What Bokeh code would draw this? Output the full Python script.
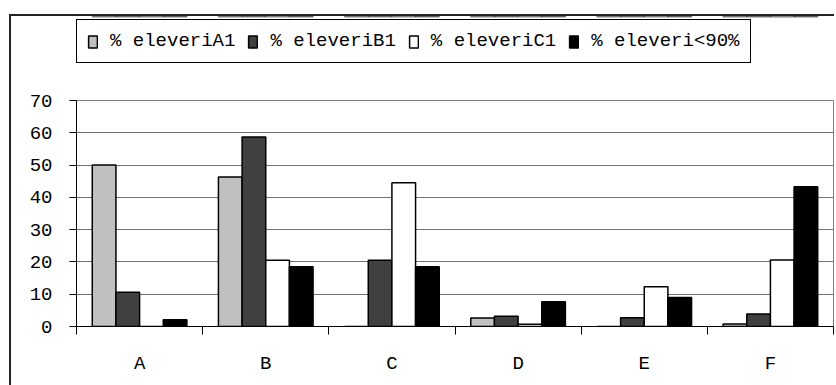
from bokeh.plotting import figure
from bokeh.layouts import column
from bokeh.models import (ColumnDataSource, Range1d, LinearAxis,
                          FixedTicker, Legend, LegendItem, Grid)
from bokeh.transform import dodge
from bokeh.embed import file_html
from bokeh.resources import INLINE

categories = ["A", "B", "C", "D", "E", "F"]
series_labels = ["% eleveriA1", "% eleveriB1", "% eleveriC1", "% eleveri<90%"]
eleveri_A1 = [50.0, 46.3, 0.0, 2.6, 0.0, 0.8]
eleveri_B1 = [10.6, 58.7, 20.5, 3.2, 2.7, 3.9]
eleveri_C1 = [0.0, 20.5, 44.5, 0.7, 12.3, 20.6]
eleveri_lt90 = [2.1, 18.5, 18.5, 7.7, 9.0, 43.3]
y_ticks = [0, 10, 20, 30, 40, 50, 60, 70]

FONT = "Liberation Mono"
FS = "19px"
BORDER = "2px solid #222222"

n = len(categories)
centers = [i + 0.5 for i in range(n)]
src = ColumnDataSource(dict(x=centers, cat=categories, a1=eleveri_A1, b1=eleveri_B1,
                            c1=eleveri_C1, lt90=eleveri_lt90))
cols = ["a1", "b1", "c1", "lt90"]
colors = ["#C0C0C0", "#404040", "#FFFFFF", "#000000"]
w = 0.1875
offsets = [-1.5 * w, -0.5 * w, 0.5 * w, 1.5 * w]

# ---------- legend strip (its bars sit far outside its visible range; only the legend shows) ----------
lg = figure(width=825, height=74, x_range=Range1d(0, n), y_range=Range1d(-1000, -999),
            output_backend="svg", toolbar_location=None,
            x_axis_location=None, y_axis_location=None,
            min_border_left=0, min_border_right=0, min_border_top=0, min_border_bottom=0)
lg.styles = {"margin-left": "9px", "margin-top": "14px",
             "border-left": BORDER, "border-top": BORDER}
lg.outline_line_color = None
lg.background_fill_color = "white"
lg.border_fill_color = "white"
for gr in lg.grid:
    gr.visible = False
legend_renderers = []
for c, col, off in zip(cols, colors, offsets):
    legend_renderers.append(lg.vbar(x=dodge("x", off), top=c, bottom=0, width=w, source=src,
                                    fill_color=col, line_color="black", line_width=1.5))

legend = Legend(items=[LegendItem(label=l, renderers=[r]) for l, r in zip(series_labels, legend_renderers)],
                orientation="horizontal", location=(0, 27))
legend.label_text_font = FONT
legend.label_text_font_size = FS
legend.label_text_color = "black"
legend.glyph_width = 11
legend.glyph_height = 15
legend.label_standoff = 12
legend.spacing = 12
legend.padding = 10
legend.margin = 0
legend.border_line_color = "black"
legend.border_line_alpha = 1
legend.border_line_width = 1.5
legend.background_fill_color = "white"
legend.background_fill_alpha = 1
lg.add_layout(legend, "center")

# ---------- chart ----------
p = figure(width=825, height=297, x_range=Range1d(0, n),
           y_range=Range1d(0, 70), output_backend="svg", toolbar_location=None,
           x_axis_location=None, y_axis_location=None,
           min_border_left=65, min_border_right=3, min_border_top=12, min_border_bottom=59)
p.styles = {"margin-left": "9px", "border-left": BORDER}
p.background_fill_color = "white"
p.border_fill_color = "white"
p.outline_line_color = "#808080"
p.outline_line_width = 1
for gr in p.grid:
    gr.visible = False

yax = LinearAxis(ticker=FixedTicker(ticks=y_ticks))
yax.major_tick_out = 7
yax.major_tick_in = 0
yax.minor_tick_line_color = None
yax.axis_line_color = "black"
yax.major_tick_line_color = "black"
yax.major_label_standoff = 17
yax.major_label_text_font = FONT
yax.major_label_text_font_size = FS
yax.major_label_text_color = "black"
p.add_layout(yax, "left")

bax = LinearAxis(ticker=FixedTicker(ticks=list(range(n + 1))))
bax.major_tick_out = 8
bax.major_tick_in = 0
bax.minor_tick_line_color = None
bax.axis_line_color = "black"
bax.major_tick_line_color = "black"
bax.major_label_text_font_size = "0px"
bax.major_label_text_color = None
bax.major_label_standoff = 0
p.add_layout(bax, "below")

cax = LinearAxis(ticker=FixedTicker(ticks=centers),
                 major_label_overrides={c: lab for c, lab in zip(centers, categories)})
cax.major_tick_line_color = None
cax.minor_tick_line_color = None
cax.axis_line_color = None
cax.major_tick_out = 0
cax.major_tick_in = 0
cax.major_label_standoff = 18
cax.major_label_text_font = FONT
cax.major_label_text_font_size = FS
cax.major_label_text_color = "black"
p.add_layout(cax, "below")

g = Grid(dimension=1, ticker=FixedTicker(ticks=y_ticks))
g.grid_line_color = "#707070"
g.grid_line_width = 1
p.add_layout(g)

for c, col, off in zip(cols, colors, offsets):
    p.vbar(x=dodge("x", off), top=c, bottom=0, width=w, source=src,
           fill_color=col, line_color="black", line_width=1.5)

layout = column(lg, p, spacing=0)
open("out.html", "w").write(file_html(layout, INLINE))
